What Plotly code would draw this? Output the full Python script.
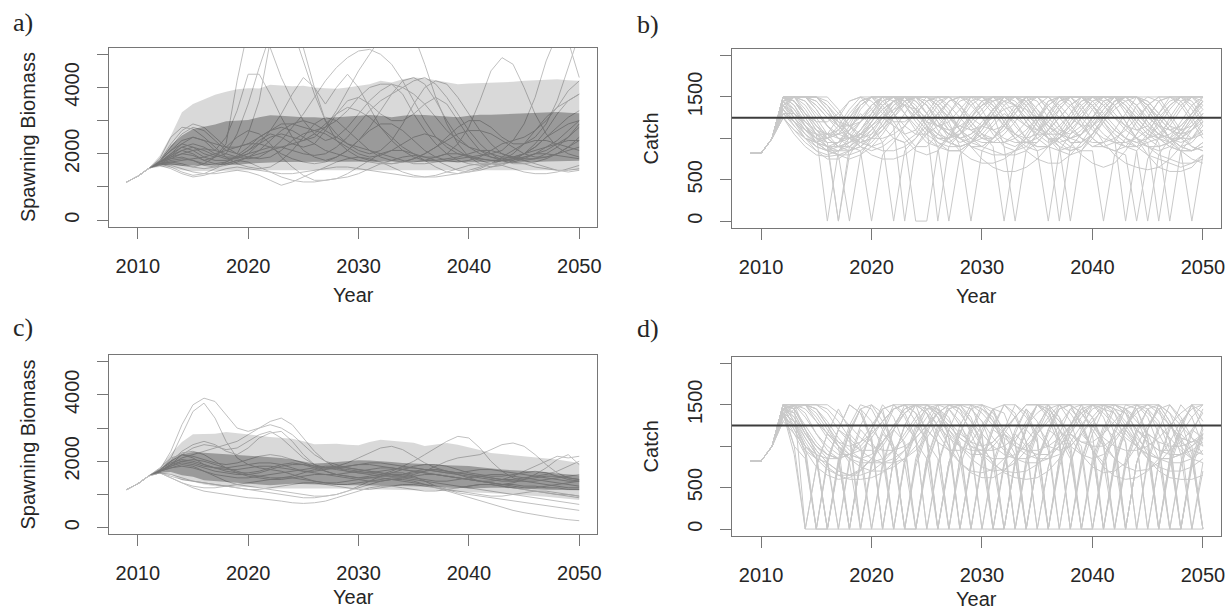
import plotly.graph_objects as go

# ---------------- data ----------------
YEARS = list(range(2009, 2051))
BAND_YEARS = list(range(2011, 2051))
SSB_START = [1150, 1320, 1560]       # 2009-2011, common to all runs
CATCH_START = [820, 820, 1000]       # 2009-2011, common to all runs
CATCH_TARGET = 1250

# panel a quantile bands, 2011-2050
A_HI95 = [1560, 1950, 2550, 3250, 3500, 3650, 3780, 3870, 3950, 3980,
          3970, 4080, 4060, 4040, 4050, 4000, 3980, 3960, 4000, 4060,
          4100, 4200, 4150, 4250, 4300, 4280, 4220, 4150, 4100, 4120,
          4130, 4150, 4160, 4170, 4200, 4210, 4230, 4250, 4220, 4200]
A_HI50 = [1560, 1800, 2250, 2550, 2750, 2820, 2880, 2980, 3000, 3020,
          3100, 3160, 3150, 3120, 3100, 3100, 3080, 3100, 3130, 3160,
          3170, 3150, 3100, 3150, 3180, 3170, 3150, 3120, 3100, 3150,
          3180, 3180, 3190, 3200, 3210, 3220, 3240, 3260, 3240, 3220]
A_LO50 = [1560, 1650, 1660, 1640, 1630, 1640, 1650, 1660, 1670, 1700,
          1730, 1740, 1750, 1750, 1750, 1750, 1750, 1750, 1750, 1750,
          1760, 1770, 1770, 1760, 1740, 1740, 1750, 1750, 1750, 1750,
          1750, 1740, 1740, 1730, 1730, 1750, 1770, 1780, 1790, 1790]
A_LO95 = [1560, 1600, 1580, 1500, 1470, 1480, 1490, 1490, 1500, 1500,
          1510, 1520, 1510, 1500, 1500, 1500, 1500, 1500, 1500, 1500,
          1510, 1520, 1510, 1500, 1500, 1500, 1500, 1500, 1500, 1500,
          1500, 1500, 1500, 1500, 1500, 1500, 1500, 1500, 1500, 1500]

# panel c quantile bands, 2011-2050
C_HI95 = [1570, 1800, 2230, 2580, 2810, 2830, 2830, 2880, 2850, 2810,
          2770, 2730, 2700, 2680, 2600, 2510, 2520, 2530, 2500, 2480,
          2580, 2650, 2620, 2580, 2560, 2460, 2500, 2550, 2500, 2430,
          2340, 2250, 2220, 2180, 2150, 2130, 2100, 2050, 2000, 1950]
C_HI50 = [1570, 1750, 2030, 2210, 2280, 2260, 2240, 2210, 2200, 2180,
          2150, 2130, 2100, 2050, 2000, 1930, 1950, 1980, 2010, 2030,
          2020, 2010, 1980, 1950, 1940, 1930, 1900, 1880, 1870, 1860,
          1820, 1780, 1750, 1730, 1720, 1710, 1680, 1630, 1600, 1580]
C_LO50 = [1570, 1650, 1680, 1580, 1530, 1430, 1400, 1380, 1350, 1330,
          1300, 1280, 1300, 1320, 1330, 1320, 1300, 1290, 1280, 1280,
          1270, 1260, 1260, 1250, 1250, 1240, 1240, 1230, 1210, 1180,
          1190, 1200, 1200, 1200, 1180, 1160, 1140, 1130, 1130, 1130]
C_LO95 = [1570, 1620, 1600, 1430, 1380, 1300, 1250, 1230, 1230, 1230,
          1210, 1180, 1180, 1180, 1180, 1180, 1180, 1180, 1180, 1180,
          1170, 1160, 1150, 1140, 1130, 1120, 1110, 1100, 1090, 1080,
          1060, 1040, 1020, 1000, 980, 950, 930, 910, 870, 830]

# panel a individual runs, 2012-2050
A01 = [1750,1900,2000,1950,1800,1900,2300,4200,5800, 6000,5200,4300,3600,3000,2600,2400,2500,2800,3200, 3600,3900,4100,3800,3200,2700,2300,2000,1800,1700, 1650,1700,1800,2000,2300,2700,3100,3400,3600,3800]
A02 = [1800,2200,2600,2800,2700,2400,2100,2000,2600, 3600,5400,6200,5800,4800,3800,3000,2600,2300,2100, 2000,2100,2400,2900,3500,4000,4200,4100,3700,3200, 2700,2300,2000,1900,1800,1850,2000,2200,2500,2900]
A03 = [1700,1600,1450,1350,1400,1550,1700,1800,1750, 1600,1450,1300,1200,1150,1150,1200,1250,1300,1400, 1550,1700,1800,1900,1950,1900,1800,1650,1500,1450, 1500,1600,1700,1750,1700,1600,1550,1500,1500,1550]
A04 = [1750,2000,2300,2500,2400,2100,2500,3300,4400, 4400,3800,3100,2500,2100,1900,1800,1900,2100,2400, 2800,3300,3800,4200,4300,4100,3600,3000,2500,2200, 2000,1900,1850,1900,2000,2100,2200,2300,2400,2400]
A05 = [1800,2100,2300,2200,2000,1900,2000,2600,3500, 4600,5600,6200,6000,5200,4000,3000,2400,2100,1900, 1800,1750,1700,1750,1850,2000,2200,2400,2600,2700, 2700,2600,2400,2200,2000,1900,1900,2000,2200,2500]
A06 = [1700,1850,2000,2100,2150,2100,2000,1900,1850, 1900,2100,2400,2800,3200,3700,4200,4600,4900,5100, 5150,5000,4700,4200,3600,3000,2500,2200,2000,1900, 1850,1800,1800,1850,1900,2000,2100,2300,2500,2800]
A07 = [1750,1950,2100,2000,1800,1700,1750,1900,2100, 2300,2500,2600,2500,2400,2500,2800,3300,3900,4500, 5000,5500,5900,6000,5600,4700,3700,2900,2300,1900, 1700,1600,1650,1800,2000,2200,2500,2800,3100,3300]
A08 = [1700,1800,1850,1800,1700,1650,1700,1800,1900, 2000,2100,2200,2300,2400,2600,2900,3200,3400,3300, 3100,2800,2500,2200,2000,1900,1900,2000,2300,2800, 3600,4500,4900,4700,4000,3200,2600,2200,2000,1900]
A09 = [1750,1850,1900,1800,1650,1600,1650,1750,1900, 2100,2400,2700,2900,3000,2900,2700,2500,2300,2200, 2100,2000,1900,1800,1700,1700,1750,1800,1850,1900, 1950,2000,2100,2400,2900,3700,4800,5600,5400,4300]
A10 = [1700,1750,1700,1600,1550,1600,1750,1950,2200, 2500,2700,2800,2700,2500,2300,2100,2000,1900,1800, 1750,1700,1700,1750,1850,2000,2200,2500,2800,3000, 3000,2800,2500,2300,2300,2500,2900,3600,4600,5600]
A11 = [1800,2300,2700,2900,2800,2500,2200,2000,1900, 1850,1900,2100,2400,2600,2700,2600,2400,2200,2000, 1900,1950,2100,2300,2500,2600,2500,2300,2100,1900, 1800,1700,1700,1750,1850,2000,2200,2400,2700,3000]
A12 = [1750,1900,2100,2200,2100,1950,1850,1850,2000, 2300,2700,3200,3800,4300,4000,3500,4000,4400,4000, 3400,2800,2400,2100,1900,1800,1800,1850,1900,2000, 2100,2100,2000,1900,1850,1850,1900,2000,2100,2200]
A13 = [1700,1650,1550,1450,1400,1400,1450,1500,1450, 1350,1200,1050,1150,1300,1450,1600,1750,1850,1900, 1850,1750,1600,1450,1350,1300,1300,1350,1400,1500, 1600,1700,1800,1850,1800,1700,1600,1500,1450,1500]
A14 = [1750,1950,2200,2300,2200,2000,1900,1900,2000, 2100,2200,2200,2100,2000,1950,2000,2200,2500,2900, 3300,3600,3800,4000,4200,4300,4100,3700,3200,2700, 2300,2000,1800,1700,1700,1750,1850,2000,2200,2400]
A15 = [1700,1750,1800,1850,1900,2000,2100,2200,2300, 2300,2200,2000,1850,1750,1700,1750,1900,2100,2400, 2700,2900,2900,2700,2400,2100,1900,1800,1750,1800, 1900,2100,2300,2400,2500,2700,3000,3400,3900,4200]
A16 = [1650,1550,1400,1300,1350,1450,1550,1600,1550, 1500,1450,1400,1400,1450,1500,1550,1600,1600,1550, 1500,1450,1400,1350,1300,1300,1350,1450,1550,1650, 1700,1700,1650,1550,1450,1400,1400,1450,1550,1650]
A17 = [1850,2500,2800,2750,2500,2200,1900,1700,1600, 1550,1600,1800,2100,2500,2900,3100,3000,2700,2400, 2100,1900,1800,1750,1750,1800,1900,2000,2000,1950, 1850,1800,1800,1850,2000,2200,2500,2700,2900,3000]
A18 = [1750,2000,2200,2100,1900,1800,1800,1900,2100, 2400,2600,2500,2300,2200,2300,2700,3200,3600,3700, 3500,3200,3000,3000,3200,3500,3700,3500,3000,2500, 2100,1900,1800,1800,1900,2000,2000,1950,1900,1850]
A19 = [1700,1700,1650,1600,1700,1900,2200,2500,2700, 2600,2300,1900,1600,1350,1200,1200,1250,1400,1600, 1800,2000,2100,2100,2000,1800,1600,1450,1400,1450, 1550,1700,1900,2100,2300,2400,2400,2300,2200,2100]
A20 = [1800,2100,2400,2500,2400,2300,2200,2200,2300, 2500,2700,2900,2900,2800,2700,2800,3000,3300,3700, 4000,4100,4100,4000,3800,3500,3100,2700,2400,2200, 2100,2000,1900,1900,2000,2300,2700,3200,3600,3800]
A_RUNS = [A01, A02, A03, A04, A05, A06, A07, A08, A09, A10,
          A11, A12, A13, A14, A15, A16, A17, A18, A19, A20]

# panel c individual runs, 2012-2050
C01 = [1750,2300,3100,3700,3900,3800,3400,3000,2900, 3000,3100,3000,2800,2500,2200,2000,1900,1800,1750, 1700,1650,1600,1550,1500,1450,1400,1400,1450,1500, 1550,1600,1600,1550,1500,1450,1400,1350,1300,1250]
C02 = [1700,2100,2800,3500,3750,3300,2600,2100,1900, 1800,1750,1700,1600,1500,1400,1350,1300,1300,1350, 1400,1450,1500,1500,1450,1400,1350,1300,1250,1200, 1150,1100,1050,1000,950,900,850,800,750,700]
C03 = [1700,1900,2100,2200,2300,2400,2500,2600,2800, 3000,3200,3300,3100,2700,2300,2000,1800,1700,1650, 1650,1700,1750,1800,1800,1750,1700,1650,1600,1550, 1500,1450,1400,1400,1450,1500,1550,1550,1500,1450]
C04 = [1650,1600,1500,1400,1350,1300,1250,1200,1150, 1100,1050,1000,950,900,900,950,1000,1100,1200, 1300,1400,1450,1450,1400,1300,1200,1100,1000,900, 800,700,600,520,450,390,330,280,240,210]
C05 = [1700,1800,1900,1850,1700,1550,1400,1300,1250, 1200,1150,1100,1050,1000,950,950,1000,1100,1250, 1400,1550,1650,1650,1550,1400,1250,1150,1050,1000, 950,900,850,800,750,700,650,600,550,520]
C06 = [1750,2000,2200,2100,1900,1800,1700,1650,1650, 1700,1800,1900,1950,1900,1800,1700,1600,1550,1500, 1550,1600,1700,1850,2000,2200,2400,2600,2750,2700, 2400,2000,1700,1500,1400,1350,1300,1250,1200,1200]
C07 = [1700,1850,2000,2050,2000,1900,1800,1700,1600, 1550,1500,1500,1550,1650,1750,1800,1800,1750,1700, 1650,1600,1550,1550,1600,1700,1850,2000,2100,2150, 2200,2350,2500,2550,2450,2200,1900,1650,1500,1450]
C08 = [1700,1900,2000,1950,1850,1800,1800,1850,1900, 1950,1950,1900,1800,1700,1650,1600,1600,1650,1700, 1750,1800,1800,1750,1700,1650,1600,1550,1500,1450, 1400,1400,1450,1550,1700,1850,2000,2150,2100,2150]
C09 = [1700,1900,2200,2400,2500,2450,2350,2400,2600, 2800,2900,2700,2400,2100,1900,1800,1750,1700,1650, 1600,1550,1550,1600,1700,1750,1750,1700,1650,1600, 1550,1500,1450,1400,1400,1400,1450,1500,1550,1600]
C10 = [1650,1500,1350,1250,1200,1200,1250,1300,1350, 1400,1450,1500,1500,1450,1400,1350,1350,1400,1450, 1500,1500,1450,1400,1350,1300,1250,1200,1200,1250, 1300,1300,1250,1200,1150,1100,1050,1000,1000,950]
C11 = [1800,2100,2200,2150,2050,1950,1900,1950,2050, 2150,2200,2150,2050,1950,1850,1800,1800,1850,1900, 1950,1950,1900,1850,1800,1750,1700,1650,1650,1700, 1750,1750,1700,1650,1600,1550,1500,1450,1400,1400]
C12 = [1750,2000,2300,2500,2600,2500,2300,2200,2400, 2700,2850,2900,2600,2200,1900,1700,1600,1550,1500, 1500,1550,1650,1750,1850,1900,1900,1850,1750,1650, 1600,1550,1550,1600,1650,1700,1650,1550,1450,1400]
C13 = [1650,1500,1350,1200,1100,1050,1000,950,900, 880,850,800,750,730,750,800,900,1000,1100, 1200,1250,1250,1200,1150,1100,1100,1150,1200,1250, 1300,1300,1250,1200,1150,1100,1050,1000,950,900]
C14 = [1750,1950,2050,2000,1900,1800,1750,1750,1800, 1850,1850,1800,1750,1700,1700,1750,1800,1850,1900, 1900,1850,1800,1750,1700,1650,1600,1550,1500,1450, 1400,1350,1300,1300,1250,1250,1200,1200,1150,1150]
C15 = [1700,1850,1950,1900,1800,1700,1650,1600,1600, 1650,1750,1850,1900,1900,1850,1800,1850,1950,2100, 2250,2400,2450,2350,2150,1950,1800,1700,1650,1600, 1550,1500,1450,1450,1500,1550,1600,1700,1850,2000]
C16 = [1650,1550,1450,1400,1350,1300,1250,1200,1150, 1150,1200,1250,1300,1350,1350,1300,1250,1200,1150, 1150,1200,1250,1300,1300,1250,1200,1150,1100,1050, 1000,950,950,1000,1050,1100,1100,1050,1000,950]
C17 = [1750,2050,2250,2300,2200,2000,1800,1650,1550, 1500,1450,1450,1500,1550,1600,1600,1550,1500,1450, 1400,1400,1450,1500,1550,1600,1600,1550,1500,1450, 1400,1350,1300,1250,1200,1200,1250,1300,1350,1400]
C18 = [1700,1800,1850,1800,1700,1600,1550,1500,1500, 1550,1600,1650,1700,1750,1800,1850,1850,1800,1750, 1700,1650,1600,1600,1650,1700,1750,1700,1600,1500, 1400,1350,1300,1350,1450,1600,1800,2050,2200,1900]
C_RUNS = [C01, C02, C03, C04, C05, C06, C07, C08, C09,
          C10, C11, C12, C13, C14, C15, C16, C17, C18]

# panel b catch runs, 2012-2050
B01 = [1500,1500,1400,1200,1000,900,950,1100,1300, 1500,1500,1500,1350,1150,1000,950,1050,1250,1450, 1500,1500,1400,1200,1050,950,1000,1150,1350,1500, 1500,1500,1350,1150,1000,900,950,1100,1300,1500]
B02 = [1400,1300,1150,1000,900,0,900,1050,1250, 1450,1500,1500,1500,1400,1200,1050,950,1000,1150, 1350,1500,1500,1500,1300,1100,950,850,900,1050, 1250,1450,1500,1500,1400,1200,1000,900,950,1100]
B03 = [1500,1450,1250,1050,0,850,1000,1200,1400, 1500,1500,1400,1250,1100,1000,1000,1100,1250,1400, 1500,1500,1500,1350,1150,1000,0,900,1050,1250, 1450,1500,1500,1400,1200,1050,950,1000,1150,1300]
B04 = [1450,1350,1150,950,850,800,0,800,1000, 1200,1400,1500,1500,1500,1450,1300,1100,950,900, 1000,1150,1350,1500,1500,1500,1350,1150,1000,900, 950,1100,1300,1500,1500,1450,1250,1050,900,850]
B05 = [1500,1500,1500,1350,1150,1000,900,850,0, 800,950,1150,1350,1500,1500,1500,1400,1200,1050, 950,950,1050,1200,1400,1500,1500,1350,1150,1000, 900,850,900,1050,1250,1450,1500,1500,1400,1200]
B06 = [1350,1200,1050,950,900,950,1100,1300,1150, 950,0,850,1000,1200,1400,1500,1500,1450,1250, 1050,900,850,900,1050,1250,1450,1500,1500,1350, 1150,1000,0,850,1000,1200,1400,1500,1500,1500]
B07 = [1500,1500,1450,1300,1150,1050,1000,1050,1150, 1250,1150,0,900,1100,1300,1450,1500,1500,1500, 1350,1150,1000,900,850,900,1050,1250,1450,1500, 1500,1500,1400,1200,1050,950,0,850,1000,1200]
B08 = [1450,1500,1500,1500,1350,1150,1000,900,850, 900,1000,950,0,0,850,1050,1250,1450,1500, 1500,1500,1400,1200,1000,900,850,900,1050,1250, 1450,1500,1500,1500,1400,1200,1000,900,850,900]
B09 = [1300,1150,1000,900,850,850,900,1000,1150, 1300,1450,1500,1350,1150,0,900,1050,1250,1400, 1450,1500,1500,1400,1200,1000,900,0,850,1050, 1250,1450,1500,1500,1350,1150,1000,900,850,950]
B10 = [1500,1400,1200,1050,950,950,1050,1200,1400, 1500,1500,1500,1350,1150,900,0,800,950,1150, 1350,1500,1500,1500,1350,1150,1000,900,850,850, 0,800,1000,1200,1400,1500,1500,1450,1250,1050]
B11 = [1500,1500,1500,1450,1300,1150,1050,1000,1050, 1150,1300,1450,1500,1500,1400,1200,900,0,850, 1000,1200,1400,1500,1500,1500,1350,1150,1000,900, 900,850,800,0,750,1000,1250,1450,1500,1500]
B12 = [1250,1100,950,850,800,850,950,1100,1300, 1500,1500,1500,1400,1200,1050,950,900,950,1050, 900,0,850,1050,1250,1450,1500,1500,1400,1200, 1050,950,900,850,0,800,1000,1200,1400,1500]
B13 = [1450,1300,1150,1050,1000,1050,1200,1400,1500, 1500,1450,1300,1150,1000,900,850,850,950,1100, 1300,900,0,850,1050,1300,1500,1500,1500,1400, 1200,1050,950,900,950,0,850,1050,1250,1450]
B14 = [1500,1500,1350,1150,1000,900,900,1000,1200, 1400,1500,1500,1500,1450,1300,1100,1000,950,1000, 1150,1300,1200,1000,850,0,850,1050,1250,1450, 1500,1500,1500,1350,1150,1000,900,850,0,800]
B15 = [1500,1500,1500,1500,1400,1200,1050,950,900, 950,1100,1300,1500,1500,1500,1350,1100,900,750, 650,600,600,650,750,900,1100,1300,1500,1500, 1500,1400,1200,1000,800,650,600,600,650,800]
B16 = [1400,1500,1500,1450,1300,1200,1150,1200,1300, 1450,1500,1500,1450,1300,1150,1050,1050,1150,1300, 1450,1500,1500,1450,1300,1150,1050,1000,1050,1200, 1350,1500,1500,1500,1400,1250,1100,1050,1100,1250]
B17 = [1250,1050,900,800,780,800,850,950,1100, 1250,1400,1500,1500,1400,1200,1000,850,750,700, 700,750,850,1000,1200,1400,1500,1500,1350,1150, 950,800,700,650,620,650,750,900,1100,1300]
B18 = [1500,1450,1300,1150,1050,1000,1000,1050,1150, 1300,1450,1500,1500,1500,1500,1400,1250,1100,1000, 950,950,1000,1100,1250,1400,1500,1500,1500,1400, 1250,1100,1000,950,900,900,950,1050,1200,1350]
B19 = [1350,1500,1500,1500,1500,1350,1150,1000,900, 850,850,900,1000,1150,1300,1450,1500,1500,1500, 1400,1200,1050,950,900,900,1000,1150,1350,1500, 1500,1500,1450,1300,1150,1050,1000,1000,1100,1200]
B20 = [1500,1300,1100,950,850,800,800,850,950, 1100,1300,1500,1500,1500,1400,1250,1100,1000,950, 950,1050,1200,1400,1500,1500,1500,1400,1250,1100, 1000,950,950,1000,1100,1250,1400,1500,1500,1500]
B21 = [1450,1500,1500,1400,1250,1100,1000,950,1000, 1100,1250,1400,1500,1500,1400,1250,1100,1000,900, 850,800,800,850,950,1100,1250,1400,1500,1500, 1450,1300,1150,1000,900,800,750,700,700,750]
B22 = [1300,1200,1100,1050,1050,1100,1250,1400,1500, 1500,1500,1400,1200,1050,950,900,900,950,1050, 1200,1400,1500,1500,1500,1400,1250,1100,1000,950, 950,1000,1100,1250,1400,1500,1500,1500,1350,1150]
B23 = [1500,1500,1500,1500,1450,1300,1150,1050,1000, 1000,1050,1150,1300,1450,1500,1500,1500,1400,1250, 1100,1000,950,950,1000,1100,1250,1400,1500,1500, 1500,1500,1400,1250,1100,1000,900,850,850,900]
B24 = [1400,1250,1100,1000,950,950,1000,1100,1250, 1400,1500,1500,1500,1400,1250,1100,1000,900,850, 800,800,850,950,1100,1300,1450,1500,1500,1450, 1300,1150,1000,900,800,750,700,650,700,800]
B25 = [1500,1500,1300,1100,1000,1050,1250,1450,1500, 1350,1150,1050,1100,1300,1500,1500,1350,1150,1000, 1000,1150,1350,1500,1450,1250,1100,1050,1150,1350, 1500,1500,1300,1100,1000,1050,1200,1400,1500,1350]
B26 = [1350,1150,1000,950,1050,1250,1450,1500,1350, 1150,1000,950,1050,1250,1450,1500,1400,1200,1050, 1000,1100,1300,1500,1500,1350,1150,1000,950,1050, 1250,1450,1500,1400,1200,1050,1000,1100,1300,1450]
B27 = [1500,1400,1150,950,850,900,1100,1350,1500, 1500,1300,1050,900,900,1050,1300,1500,1500,1350, 1100,950,900,1000,1200,1450,1500,1450,1200,1000, 900,950,1150,1400,1500,1500,1300,1100,1000,1050]
B28 = [1450,1250,1050,900,850,950,1150,1400,1500, 1500,1500,1300,1100,950,900,1000,1250,1500,1500, 1450,1250,1050,950,950,1100,1350,1500,1500,1400, 1200,1000,900,900,1050,1300,1500,1500,1450,1250]
B29 = [1500,1500,1500,1400,1250,1150,1150,1250,1400, 1500,1500,1450,1300,1200,1150,1200,1350,1500,1500, 1500,1400,1250,1150,1100,1200,1350,1500,1500,1500, 1400,1250,1150,1100,1150,1300,1450,1500,1500,1450]
B30 = [1250,1100,1000,950,1000,1150,1350,1500,1500, 1400,1200,1000,850,800,850,1000,1200,1400,1500, 1500,1350,1150,1000,900,900,1000,1200,1400,1500, 1500,1400,1200,1000,900,850,900,1050,1250,1400]
B31 = [1500,1450,1300,1200,1200,1300,1450,1500,1450, 1300,1200,1200,1300,1450,1500,1500,1400,1250,1150, 1100,1150,1300,1450,1500,1500,1400,1250,1150,1150, 1250,1400,1500,1500,1450,1300,1150,1100,1150,1300]
B32 = [1400,1200,1000,850,750,750,850,1000,1200, 1400,1500,1500,1350,1150,950,850,850,950,1150, 1350,1500,1500,1400,1200,1000,850,800,850,1000, 1200,1400,1500,1500,1300,1100,950,850,850,950]
B33 = [1500,1500,1450,1250,1050,900,850,900,1050, 1250,1450,1500,1500,1300,1100,950,900,950,1100, 1300,1500,1500,1450,1250,1050,900,850,900,1050, 1250,1450,1500,1500,1350,1150,1000,950,1000,1150]
B34 = [1300,1300,1200,1100,1050,1050,1100,1200,1350, 1500,1500,1450,1300,1150,1050,1000,1050,1200,1350, 1500,1500,1450,1300,1150,1050,1050,1150,1300,1450, 1500,1500,1400,1250,1100,1000,950,1000,1100,1250]
B35 = [1500,1350,1150,1000,900,850,850,900,1000, 1150,1300,1450,1500,1500,1400,1250,1150,1100,1150, 1250,1350,1400,1350,1250,1150,1050,1000,1050,1150, 1300,1450,1500,1500,1450,1300,1150,1000,900,850]
B36 = [1450,1500,1500,1350,1150,1000,950,1000,1100, 1250,1350,1400,1350,1250,1150,1100,1150,1250,1400, 1500,1500,1400,1250,1100,1000,950,1000,1100,1250, 1400,1500,1500,1400,1250,1150,1100,1150,1300,1450]
B37 = [1400,1500,1500,1500,1400,1250,1050,900,800, 750,750,800,900,1050,1250,1450,1500,1500,1500, 1400,1200,1000,850,750,700,700,800,950,1150, 1350,1500,1500,1500,1400,1200,1000,850,750,700]
B38 = [1350,1200,1050,950,900,900,950,1050,1200, 1350,1450,1500,1450,1300,1150,1050,1000,1050,1150, 1300,1450,1500,1500,1350,1200,1050,950,950,1050, 1200,1350,1450,1500,1400,1250,1100,1000,1000,1100]
B39 = [1500,1450,1300,1100,950,0,800,1000,1200, 1350,1450,1400,1250,1100,1000,1000,1100,1300,1450, 1500,1450,1300,1150,1050,1050,1150,1300,1450,1500, 1400,1250,1100,1000,950,1000,1150,1350,1500,1500]
B40 = [1500,1500,1500,1500,1350,1150,1000,950,1000, 1150,1350,1500,1500,1400,1200,1050,1000,1050,1200, 1350,1450,1400,1250,1100,1000,1000,1100,1250,1400, 1500,1500,1350,1200,1050,1000,1050,1150,1300,1450]
B41 = [1400,1250,1100,1000,1000,1100,1300,1450,1500, 1450,1300,1150,1050,1050,1150,1300,1450,1500,1450, 1300,1150,1050,1000,1050,1200,1400,1500,1500,1400, 1250,1100,1000,950,1000,1150,1350,1500,1500,1400]
B42 = [1500,1450,1250,1050,900,800,750,800,900, 1050,1250,1450,1500,1500,1350,1150,1000,900,900, 1000,1150,1350,1500,1500,1350,1150,950,800,700, 650,700,850,1050,1250,1450,1500,1400,1200,1000]
B_RUNS = [B01, B02, B03, B04, B05, B06, B07, B08, B09, B10, B11, B12, B13, B14,
          B15, B16, B17, B18, B19, B20, B21, B22, B23, B24, B25, B26, B27, B28,
          B29, B30, B31, B32, B33, B34, B35, B36, B37, B38, B39, B40, B41, B42]

# panel d catch runs, 2012-2050
D01 = [1450,1480,0,0,0,0,0,0,0, 0,0,0,0,0,0,0,0,0,0, 0,0,0,0,0,0,0,0,0,0, 0,0,0,0,0,0,0,0,0,0]
D02 = [1400,900,0,750,1150,1450,1200,0,800, 1200,1500,1400,1100,0,800,1200,1500,1350,1000, 0,750,1150,1450,1300,950,0,800,1200,1500, 1350,1000,0,800,1200,1500,1300,900,0,700]
D03 = [1500,1300,900,0,800,1200,1500,1400,1100, 0,850,1250,1500,1400,1050,0,750,1150,1450, 1350,1000,0,800,1200,1500,1350,950,0,750, 1150,1450,1400,1050,0,800,1200,1500,1350,1000]
D04 = [1450,1500,1200,900,0,750,1150,1450,1300, 950,0,800,1200,1500,1350,1000,0,750,1150, 1450,1400,1050,0,800,1200,1500,1300,900,0, 750,1150,1450,1350,1000,0,800,1200,1500,1400]
D05 = [1350,1250,1000,850,800,0,850,1250,1500, 1400,1000,0,750,1150,1450,1350,1000,0,800, 1200,1500,1400,1050,0,750,1150,1450,1300,950, 0,800,1200,1500,1350,1000,0,750,1150,1450]
D06 = [1500,1450,1200,1000,900,850,0,800,1200, 1500,1350,1000,0,750,1150,1450,1300,950,0, 800,1200,1500,1400,1050,0,800,1150,1450,1350, 1000,0,750,1150,1450,1300,950,0,800,1200]
D07 = [1400,1500,1500,1350,1150,1000,900,850,0, 800,1200,1500,1400,1050,0,750,1150,1450,1300, 950,0,800,1200,1500,1350,1000,0,750,1150, 1450,1400,1050,0,800,1200,1500,1300,900,0]
D08 = [1500,1200,950,850,0,800,1200,1450,1100, 0,850,1250,1500,1150,0,800,1250,1500,1150, 0,800,1200,1450,1100,0,850,1250,1500,1150, 0,800,1200,1450,1100,0,850,1250,1500,1200]
D09 = [1450,1400,1150,1000,900,850,0,800,1200, 1450,900,0,850,1250,1500,1100,0,800,1200, 1450,1000,0,750,1150,1450,1050,0,800,1250, 1500,1150,0,800,1200,1450,1050,0,850,1250]
D10 = [1400,1000,850,0,800,1200,1100,0,750, 1150,1000,0,800,1200,1050,0,850,1250,1100, 0,800,1150,1000,0,750,1200,1050,0,850, 1250,1100,0,800,1150,1050,0,800,1200,1100]
D11 = [1500,1450,1200,1000,850,0,800,1200,1050, 0,850,1250,1100,0,750,1200,1050,0,800, 1200,1100,0,850,1250,1050,0,800,1150,1000, 0,750,1200,1050,0,800,1250,1100,0,800]
D12 = [1450,1000,0,750,1150,1000,0,800,1200, 1050,0,850,1250,1100,0,800,1200,1000,0, 750,1150,1050,0,800,1200,1100,0,850,1250, 1050,0,800,1200,1100,0,750,1150,1000,0]
D13 = [1400,1300,1000,850,0,800,1150,1000,0, 750,1200,1050,0,850,1250,1100,0,800,1150, 1000,0,800,1200,1050,0,750,1150,1000,0, 800,1200,1050,0,850,1250,1100,0,750,1100]
D14 = [1500,1500,1500,1400,1200,1000,850,750,700, 700,750,850,1000,1200,1400,1500,1500,1450,1300, 1100,950,850,800,800,850,1000,1200,1400,1500, 1500,1450,1300,1100,950,850,800,800,850,950]
D15 = [1450,1500,1500,1500,1450,1300,1100,950,850, 800,800,850,950,1100,1300,1450,1500,1500,1500, 1400,1200,1050,950,900,900,1000,1150,1350,1500, 1500,1500,1400,1200,1050,950,900,900,950,1050]
D16 = [1400,1300,1100,900,750,650,600,600,620, 680,800,950,1150,1350,1500,1500,1400,1200,1000, 800,680,620,600,620,700,850,1050,1250,1450, 1500,1450,1250,1050,850,700,620,600,600,650]
D17 = [1500,1500,1350,1150,1000,900,900,950,1100, 1300,1450,1500,1500,1400,1250,1100,1000,950,950, 1050,1200,1350,1500,1500,1450,1300,1150,1050,1000, 1000,1100,1250,1400,1500,1500,1400,1250,1100,1000]
D18 = [1350,1500,1500,1500,1500,1400,1250,1100,1000, 950,950,1000,1100,1250,1400,1500,1500,1500,1400, 1250,1100,1000,950,950,1000,1100,1250,1400,1500, 1500,1500,1450,1300,1150,1050,1000,1000,1050,1150]
D19 = [1500,1350,1150,950,800,700,650,650,700, 800,950,1150,1350,1500,1500,1450,1250,1050,900, 780,700,680,700,780,900,1050,1250,1450,1500, 1500,1400,1200,1000,850,750,700,700,750,850]
D20 = [1450,1500,1450,1300,1150,1050,1000,1050,1150, 1300,1450,1500,1500,1500,1400,1250,1100,1000,950, 950,1000,1100,1250,1400,1500,1500,1500,1400,1250, 1100,1000,950,950,1000,1100,1250,1400,1500,1500]
D21 = [1300,1150,1000,900,850,850,900,1000,1150, 1300,1450,1500,1500,1500,1400,1250,1100,1000,900, 850,850,900,1000,1150,1300,1450,1500,1500,1500, 1400,1250,1100,1000,900,850,850,900,1000,1100]
D22 = [1500,1500,1500,1450,1300,1100,950,850,800, 800,850,950,1100,1250,1400,1500,1500,1500,1450, 1300,1150,1000,900,850,850,900,1000,1150,1300, 1450,1500,1500,1500,1400,1250,1100,950,850,800]
D23 = [1500,1400,1150,950,800,700,650,700,850, 1050,1250,1450,1500,1400,1150,950,800,700,680, 720,850,1050,1300,1500,1500,1350,1100,900,750, 680,700,800,1000,1250,1450,1500,1350,1100,900]
D24 = [1300,1450,1500,1450,1250,1050,900,850,900, 1050,1250,1450,1500,1500,1350,1150,1000,900,900, 1000,1150,1350,1500,1500,1400,1200,1000,900,850, 900,1050,1250,1450,1500,1450,1250,1050,950,900]
D25 = [1450,1350,1100,900,0,850,1250,1500,1450, 1200,950,800,0,800,1150,1450,1500,1300,1000, 800,0,850,1250,1500,1400,1100,850,0,800, 1200,1500,1450,1150,900,0,850,1250,1500,1300]
D26 = [1500,1500,1400,1150,950,850,0,850,1200, 1450,1500,1350,1050,850,0,800,1150,1450,1500, 1300,1000,850,0,850,1200,1450,1500,1250,950, 800,0,850,1200,1450,1500,1300,1000,850,0]
D27 = [1400,1200,950,750,650,600,620,700,850, 1050,1250,1400,1500,1450,1250,1000,800,680,620, 620,700,850,1050,1250,1450,1500,1400,1200,950, 750,640,600,620,700,850,1050,1300,1450,1500]
D28 = [1500,1500,1500,1300,1100,950,850,800,800, 850,950,1100,1300,1450,1500,1500,1450,1300,1150, 1000,900,850,850,900,1050,1250,1450,1500,1500, 1450,1300,1150,1000,900,850,850,900,1000,1150]
D29 = [1450,1250,1000,0,850,1200,1500,1400,1050, 850,0,800,1150,1450,1450,1150,850,0,850, 1250,1500,1350,1050,850,0,850,1250,1500,1350, 1050,850,0,800,1200,1500,1400,1100,850,0]
D30 = [1500,1450,1250,1050,900,850,900,1050,1250, 1450,1500,1500,1400,1200,1050,950,950,1050,1250, 1450,1500,1500,1350,1150,1000,950,1000,1150,1350, 1500,1500,1400,1200,1050,950,950,1050,1200,1400]
D31 = [1350,1500,1500,1450,1250,1000,800,0,800, 1150,1450,1500,1300,1050,850,0,850,1200,1500, 1450,1150,900,0,800,1150,1450,1500,1250,950, 0,850,1250,1500,1450,1150,900,0,800,1150]
D32 = [1500,1300,1050,850,720,650,650,720,850, 1000,1200,1400,1500,1500,1400,1200,1000,850,750, 700,720,800,950,1150,1350,1500,1500,1400,1200, 1000,850,750,700,720,800,950,1150,1350,1500]
D33 = [1450,1500,1500,1500,1400,1200,1050,950,950, 1050,1200,1400,1500,1500,1450,1300,1150,1050,1000, 1050,1200,1350,1500,1500,1450,1300,1150,1050,1050, 1150,1300,1450,1500,1500,1400,1250,1100,1050,1100]
D34 = [1400,1150,900,0,0,800,1150,1450,1500, 1300,1000,0,0,850,1200,1500,1450,1150,850, 0,0,800,1200,1500,1500,1200,900,0,0, 850,1200,1500,1450,1150,850,0,0,800,1150]
D_RUNS = [D01, D02, D03, D04, D05, D06, D07, D08, D09, D10, D11, D12,
          D13, D14, D15, D16, D17, D18, D19, D20, D21, D22, D23, D24,
          D25, D26, D27, D28, D29, D30, D31, D32, D33, D34]

X_TICKS = [2010, 2020, 2030, 2040, 2050]
SSB_TICKS = [0, 1000, 2000, 3000, 4000, 5000]
SSB_TICKTEXT = ["0", "", "2000", "", "4000", ""]
CATCH_TICKS = [0, 500, 1000, 1500, 2000]
CATCH_TICKTEXT = ["0", "500", "", "1500", ""]

# ---------------- styling ----------------
W, H = 1232, 611
SANS = "Liberation Sans, Arial, sans-serif"
SERIF = "Liberation Serif, Times New Roman, serif"
TXT = "#262626"
AXC = "#767676"
LIGHT_BAND = "rgba(0,0,0,0.15)"
DARK_BAND = "rgba(0,0,0,0.29)"
SSB_LINE = "#c0c0c0"
CATCH_LINE = "#c9c9c9"

def px_x(p):
    return p / W

def px_y(p):
    return 1 - p / H

PANELS = {
    "a": dict(x=(109, 599.3), y=(47.7, 226.7)),
    "b": dict(x=(734.3, 1225), y=(49, 227.7)),
    "c": dict(x=(109, 599.3), y=(355, 534.3)),
    "d": dict(x=(734.3, 1225), y=(356.7, 535.7)),
}

fig = go.Figure()

def add_band(xa, ya, hi, lo, color):
    fig.add_trace(go.Scatter(
        x=BAND_YEARS + BAND_YEARS[::-1], y=hi + lo[::-1],
        fill="toself", fillcolor=color, mode="lines",
        line=dict(width=0, color=color), hoverinfo="skip",
        xaxis=xa, yaxis=ya, showlegend=False))

def add_runs(xa, ya, start, runs, color):
    for r in runs:
        yv = start + r
        fig.add_trace(go.Scatter(
            x=YEARS[:len(yv)], y=yv, mode="lines",
            line=dict(color=color, width=1), hoverinfo="skip",
            xaxis=xa, yaxis=ya, showlegend=False))

# panel a: runs, then translucent quantile bands over them
add_runs("x", "y", SSB_START, A_RUNS, SSB_LINE)
add_band("x", "y", A_HI95, A_LO95, LIGHT_BAND)
add_band("x", "y", A_HI50, A_LO50, DARK_BAND)
# panel b
add_runs("x2", "y2", CATCH_START, B_RUNS, CATCH_LINE)
# panel c
add_runs("x3", "y3", SSB_START, C_RUNS, SSB_LINE)
add_band("x3", "y3", C_HI95, C_LO95, LIGHT_BAND)
add_band("x3", "y3", C_HI50, C_LO50, DARK_BAND)
# panel d
add_runs("x4", "y4", CATCH_START, D_RUNS, CATCH_LINE)

XR = [2007.36, 2051.64]
base_axis = dict(showgrid=False, zeroline=False, showline=True, linecolor=AXC,
                 linewidth=1, mirror=True, ticks="outside", ticklen=11,
                 tickwidth=1, tickcolor=AXC,
                 tickfont=dict(family=SANS, size=20, color=TXT))

layout = dict(width=W, height=H, margin=dict(l=0, r=0, t=0, b=0),
              paper_bgcolor="white", plot_bgcolor="white", showlegend=False)

names = [("a", "", "SSB"), ("b", "2", "C"), ("c", "3", "SSB"), ("d", "4", "C")]
for key, sfx, kind in names:
    p = PANELS[key]
    xd = [px_x(p["x"][0]), px_x(p["x"][1])]
    yd = [px_y(p["y"][1]), px_y(p["y"][0])]
    xa = dict(base_axis, domain=xd, range=XR, tickmode="array", tickvals=X_TICKS,
              ticktext=[str(t) for t in X_TICKS], anchor="y" + sfx,
              ticklabelstandoff=10)
    if kind == "SSB":
        ya = dict(base_axis, domain=yd, range=[-200, 5200], tickmode="array",
                  tickvals=SSB_TICKS, ticktext=SSB_TICKTEXT, tickangle=-90,
                  anchor="x" + sfx, ticklabelstandoff=10)
    else:
        ya = dict(base_axis, domain=yd, range=[-80, 2080], tickmode="array",
                  tickvals=CATCH_TICKS, ticktext=CATCH_TICKTEXT, tickangle=-90,
                  anchor="x" + sfx, ticklabelstandoff=10)
    layout["xaxis" + sfx] = xa
    layout["yaxis" + sfx] = ya

fig.update_layout(**layout)

# target catch line across the whole plotting region
for sfx in ["2", "4"]:
    fig.add_shape(type="line", xref="x" + sfx + " domain", x0=0, x1=1,
                  yref="y" + sfx, y0=CATCH_TARGET, y1=CATCH_TARGET,
                  line=dict(color="#3c3c3c", width=2))

ann = []
def label(text, x, y, size=20, fam=SANS, angle=0, xanchor="center"):
    ann.append(dict(text=text, x=px_x(x), y=px_y(y), xref="paper", yref="paper",
                    showarrow=False, textangle=angle, xanchor=xanchor,
                    yanchor="middle", font=dict(family=fam, size=size, color=TXT)))

for key in ["a", "b", "c", "d"]:
    p = PANELS[key]
    cx = (p["x"][0] + p["x"][1]) / 2
    cy = (p["y"][0] + p["y"][1]) / 2
    label("Year", cx, p["y"][1] + (68 if key in "ab" else 63))
    ytitle = "Spawning Biomass" if key in "ac" else "Catch"
    label(ytitle, p["x"][0] - 81, cy, angle=-90)
    dy = 25 if key in "ab" else 28
    label(key + ")", p["x"][0] - 98 if key in "ac" else p["x"][0] - 97,
          p["y"][0] - dy, size=26, fam=SERIF, xanchor="left")

fig.update_layout(annotations=ann)
fig.write_html("out.html",
               config={"displayModeBar": False},
               post_script="document.body.style.margin='0px';"
                           "document.body.style.overflow='hidden';")
